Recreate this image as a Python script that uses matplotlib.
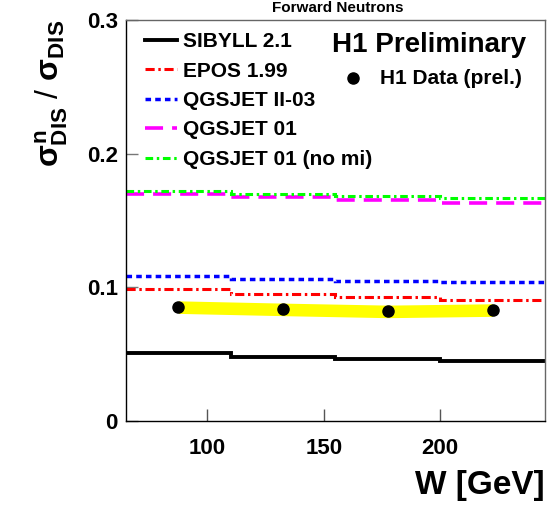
import matplotlib.pyplot as plt
import numpy as np

plt.rcParams['font.family'] = ['Liberation Sans', 'DejaVu Sans']
plt.rcParams['font.weight'] = 'bold'
plt.rcParams['mathtext.fontset'] = 'custom'
plt.rcParams['mathtext.rm'] = 'Liberation Sans:bold'
plt.rcParams['mathtext.it'] = 'Liberation Sans'
plt.rcParams['mathtext.bf'] = 'Liberation Sans:bold'

# W bins [GeV]
bordes = [65, 110, 155, 200, 245]
w_datos = [87.5, 132.5, 177.5, 222.5]

# fraccion de neutrones por bin
h1_datos = [0.0852, 0.0835, 0.0820, 0.0830]
h1_err = [0.0047, 0.0047, 0.0047, 0.0047]

sibyll = [0.0510, 0.0482, 0.0461, 0.0447]
epos = [0.0985, 0.0947, 0.0927, 0.0902]
qgsjet2 = [0.1083, 0.1065, 0.1048, 0.1040]
qgsjet01 = [0.1697, 0.1674, 0.1652, 0.1634]
qgsjet01_nomi = [0.1717, 0.1700, 0.1684, 0.1669]

fig = plt.figure(figsize=(5.58, 5.12), dpi=100)
ax = fig.add_axes([0.2258, 0.1777, 0.7509, 0.7833])

y = np.array(h1_datos)
e = np.array(h1_err)
ax.fill_between(w_datos, y - e, y + e, color='#ffff00', lw=0, zorder=1)

ax.stairs(sibyll, bordes, baseline=None, color='black', lw=2.8, zorder=2, label='SIBYLL 2.1')
ax.stairs(epos, bordes, baseline=None, color='#ff0000', lw=2.2, ls=(0, (3, 1.2, 0.8, 1.2)), zorder=2, label='EPOS 1.99')
ax.stairs(qgsjet2, bordes, baseline=None, color='#0000ff', lw=2.5, ls=(0, (1.6, 1.2)), zorder=2, label='QGSJET II-03')
ax.stairs(qgsjet01, bordes, baseline=None, color='#ff00ff', lw=2.6, ls=(0, (5, 2.5)), zorder=2, label='QGSJET 01')
ax.stairs(qgsjet01_nomi, bordes, baseline=None, color='#00ff00', lw=2.2, ls=(0, (2.5, 1.2, 0.8, 1.2)), zorder=2, label='QGSJET 01 (no mi)')

ax.plot(w_datos, h1_datos, 'o', color='black', ms=8, zorder=3)

ax.set_xlim(65, 245)
ax.set_ylim(0, 0.3)
ax.set_xticks([100, 150, 200])
ax.set_yticks([0, 0.1, 0.2, 0.3])
ax.set_yticklabels(['0', '0.1', '0.2', '0.3'])
ax.tick_params(axis='both', direction='in', length=8.5, labelsize=16, width=1)
ax.tick_params(axis='y', color='#777777', pad=6)
ax.tick_params(axis='x', color='#555555', pad=12)
for s in ['top', 'right']:
    ax.spines[s].set_color('#666666')
for s in ax.spines.values():
    s.set_linewidth(1)

leg = ax.legend(loc='upper left', frameon=False, fontsize=15, handlelength=1.55,
                handletextpad=0.3, labelspacing=0.5, borderaxespad=0.3,
                bbox_to_anchor=(0.01, 1.006))

ax.text(0.955, 0.97, 'H1 Preliminary', transform=ax.transAxes, ha='right', va='top',
        fontsize=20, fontweight='bold')
ax.plot([0.542], [0.855], 'o', color='black', ms=8, transform=ax.transAxes, clip_on=False)
ax.text(0.945, 0.855, 'H1 Data (prel.)', transform=ax.transAxes, ha='right', va='center',
        fontsize=15, fontweight='bold')

fig.text(0.605, 0.999, 'Forward Neutrons', ha='center', va='top', fontsize=11, fontweight='bold')

ax.set_xlabel('W [GeV]', fontsize=24, fontweight='bold', loc='right', labelpad=8)
ax.set_ylabel(r'$\sigma^{\rm n}_{\rm DIS}$ / $\sigma_{\rm DIS}$', fontsize=23,
              loc='top', labelpad=12)

fig.savefig('out.png', dpi=100)
